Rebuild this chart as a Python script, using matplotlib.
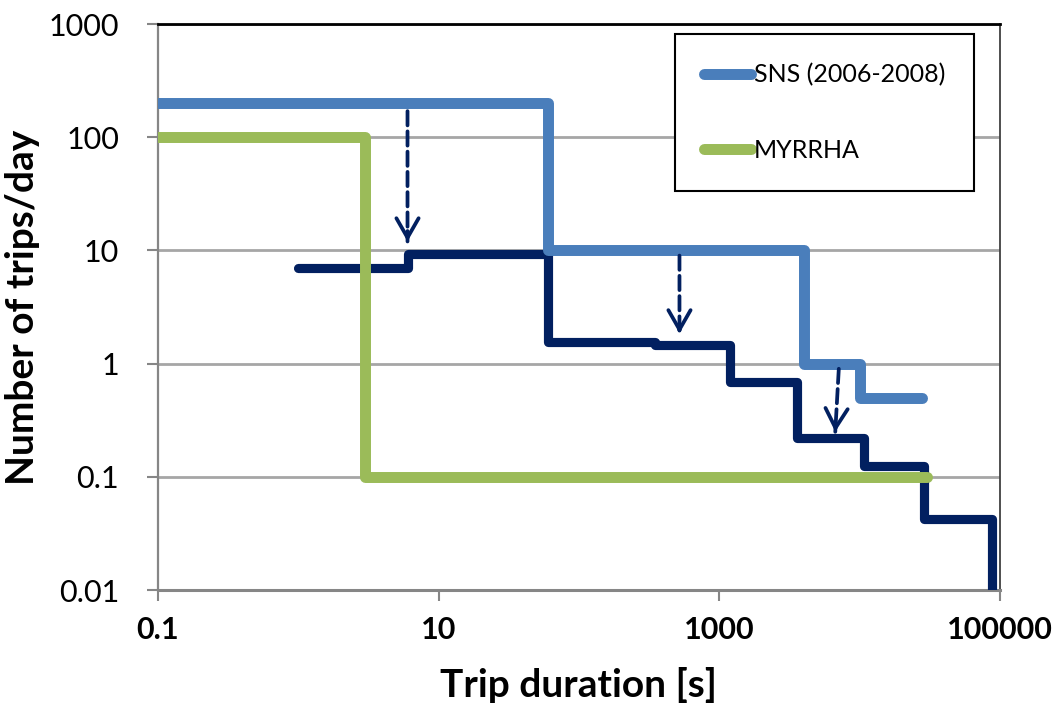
import matplotlib
matplotlib.use("Agg")
import matplotlib.pyplot as plt
from matplotlib.ticker import FixedLocator, FixedFormatter, NullLocator

# --- data -------------------------------------------------------------
# SNS trip statistics 2006-2008 (steps start at each duration)
sns_duration = [0.1, 60, 4000, 10000, 28000]
sns_trips = [200, 10, 1, 0.5, 0.5]

# MYRRHA reliability requirement
myrrha_duration = [0.1, 3, 30000]
myrrha_trips = [100, 0.1, 0.1]

# Improved SNS trip distribution
improved_duration = [1, 6, 60, 350, 1200, 3600, 10800, 28500, 87500]
improved_trips = [7, 9.3, 1.55, 1.45, 0.69, 0.22, 0.125, 0.042, 0.01]

# Dashed arrows: (duration_start, trips_start, duration_end, trips_end)
arrow_starts = [(6, 170), (520, 9.0), (7100, 0.9)]
arrow_ends = [(6, 12), (520, 1.85), (6700, 0.25)]

x_ticks = [0.1, 10, 1000, 100000]
x_tick_labels = ["0.1", "10", "1000", "100000"]
y_ticks = [0.01, 0.1, 1, 10, 100, 1000]
y_tick_labels = ["0.01", "0.1", "1", "10", "100", "1000"]

# --- style ------------------------------------------------------------
LIGHT_BLUE = "#4a7ebb"
GREEN = "#9bbb59"
NAVY = "#022060"
GRID = "#a6a6a6"
AXIS_GREY = "#868686"

plt.rcParams["font.family"] = ["Lato", "DejaVu Sans"]

fig = plt.figure(figsize=(10.58, 7.13), dpi=100)
ax = fig.add_axes([0.1493, 0.1725, 0.7959, 0.7938])
ax.set_xscale("log")
ax.set_yscale("log")
ax.set_xlim(0.1, 100000)
ax.set_ylim(0.01, 1000)

line_kw = dict(solid_capstyle="round", solid_joinstyle="round")
ax.step(improved_duration, improved_trips, where="post", color=NAVY,
        lw=6.6, zorder=3, **line_kw)
ax.step(sns_duration, sns_trips, where="post", color=LIGHT_BLUE,
        lw=7.9, zorder=4, label="SNS (2006-2008)", **line_kw)
ax.step(myrrha_duration, myrrha_trips, where="post", color=GREEN,
        lw=7.9, zorder=5, label="MYRRHA", **line_kw)

# arrows: dashed shaft plus a solid open head
for (xs, ys), (xe, ye) in zip(arrow_starts, arrow_ends):
    ax.annotate("", xy=(xe, ye), xytext=(xs, ys),
                arrowprops=dict(arrowstyle="-", color=NAVY, lw=2.7,
                                linestyle=(0, (3.8, 1.6)),
                                shrinkA=0, shrinkB=0), zorder=6)
    xm = xs ** 0.08 * xe ** 0.92
    ym = ys ** 0.08 * ye ** 0.92
    ax.annotate("", xy=(xe, ye), xytext=(xm, ym),
                arrowprops=dict(arrowstyle="->,head_length=0.7,head_width=0.4",
                                color=NAVY, lw=2.7, mutation_scale=20,
                                shrinkA=0, shrinkB=0), zorder=6)

# axes, ticks, grid
ax.xaxis.set_major_locator(FixedLocator(x_ticks))
ax.xaxis.set_major_formatter(FixedFormatter(x_tick_labels))
ax.xaxis.set_minor_locator(NullLocator())
ax.yaxis.set_major_locator(FixedLocator(y_ticks))
ax.yaxis.set_major_formatter(FixedFormatter(y_tick_labels))
ax.yaxis.set_minor_locator(NullLocator())

ax.grid(axis="y", which="major", color=GRID, lw=2.0, zorder=0)
ax.set_axisbelow(True)

ax.tick_params(axis="x", length=8, width=1.5, color=AXIS_GREY, pad=11,
               labelsize=22)
ax.tick_params(axis="y", length=8, width=1.5, color=AXIS_GREY, pad=20,
               labelsize=22)
for lab in ax.get_xticklabels():
    lab.set_fontweight("bold")

ax.spines["left"].set_color(AXIS_GREY)
ax.spines["left"].set_linewidth(1.6)
ax.spines["bottom"].set_color(AXIS_GREY)
ax.spines["bottom"].set_linewidth(2.2)
ax.spines["top"].set_color("black")
ax.spines["top"].set_linewidth(2.0)
ax.spines["right"].set_color("#404040")
ax.spines["right"].set_linewidth(1.3)

ax.set_xlabel("Trip duration [s]", fontsize=28, fontweight="bold", labelpad=16)
ax.set_ylabel("Number of trips/day", fontsize=28, fontweight="bold", labelpad=6)

leg = ax.legend(loc="upper left", bbox_to_anchor=(0.614, 0.982),
                borderaxespad=0, fontsize=18, frameon=True, fancybox=False,
                framealpha=1, edgecolor="black", handlelength=1.9,
                handletextpad=0.1, labelspacing=2.1, borderpad=1.15)
leg.get_frame().set_linewidth(1.5)

fig.savefig("out.png", dpi=100)
